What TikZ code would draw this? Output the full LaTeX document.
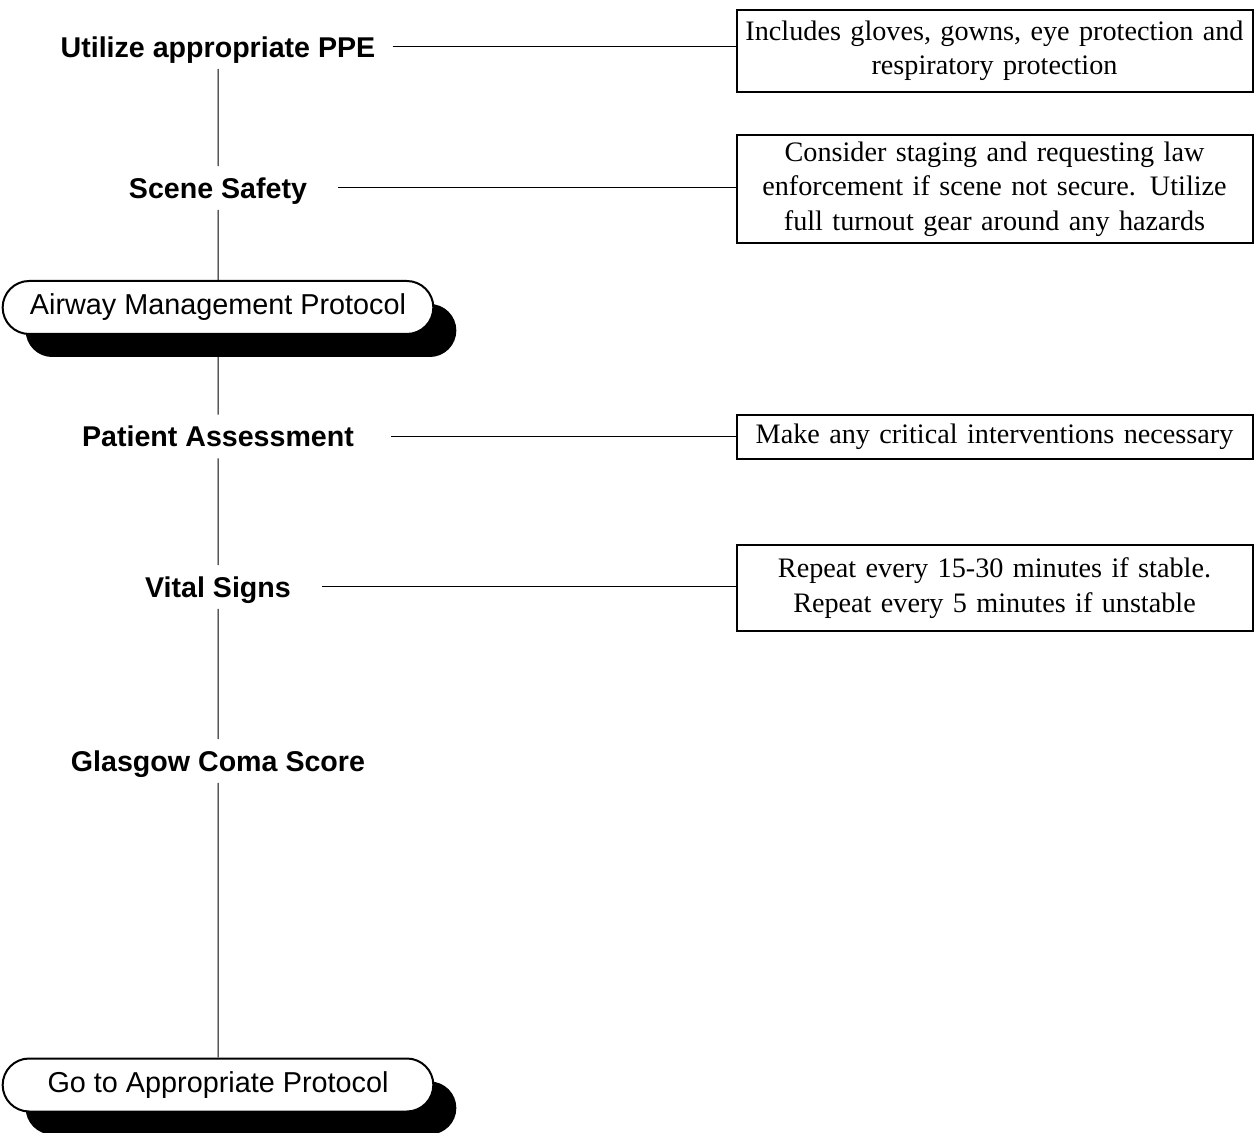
\documentclass[tikz,border=0pt]{standalone}
\usepackage{fontspec}
\setmainfont{Liberation Serif}
\setsansfont{Liberation Sans}
\usetikzlibrary{shapes.misc,shadows}

\begin{document}
\begin{tikzpicture}[x=0.5pt, y=-0.5pt,
  steplabel/.style={font=\sffamily\bfseries\fontsize{14.3}{17}\selectfont,
    inner xsep=0pt, inner ysep=5.5pt, text height=10.5pt, text depth=0pt},
  notebox/.style={draw, line width=1pt, text width=254pt, inner xsep=2pt,
    align=center, font=\rmfamily\fontsize{14.1}{17.25}\selectfont},
  protocolbox/.style={draw, line width=1pt, fill=white, rounded rectangle,
    minimum width=222pt, minimum height=26.5pt,
    font=\sffamily\fontsize{14.4}{17}\selectfont,
    drop shadow={shadow xshift=11.5pt, shadow yshift=-11.5pt, fill=black, opacity=1}},
  link/.style={line width=0.5pt}]

% Common positions
\def\mainx{218}
\def\notex{994.5}

\useasboundingbox (0,0) rectangle (1254,1133);

% Steps along the main line
\node[steplabel] (ppe) at (\mainx,47) {Utilize appropriate PPE};
\node[steplabel] (scene) at (\mainx,188) {Scene Safety};
\node[protocolbox] (airway) at (\mainx,307.5) {Airway Management Protocol};
\node[steplabel] (assess) at (\mainx,436.5) {Patient Assessment};
\node[steplabel] (vitals) at (\mainx,587) {Vital Signs};
\node[steplabel] (gcs) at (\mainx,761) {Glasgow Coma Score};
\node[protocolbox] (goto) at (\mainx,1085) {Go to Appropriate Protocol};

% Notes on the right
\node[notebox, minimum height=41pt] (ppenote) at (\notex,51)
  {Includes gloves, gowns, eye protection and\\ respiratory protection};
\node[notebox, minimum height=54pt] (scenenote) at (\notex,189)
  {Consider staging and requesting law\\ enforcement if scene not secure. Utilize\\ full turnout gear around any hazards};
\node[notebox, minimum height=22pt] (assessnote) at (\notex,437)
  {Make any critical interventions necessary};
\node[notebox, minimum height=43pt] (vitalsnote) at (\notex,588)
  {Repeat every 15-30 minutes if stable.\\ Repeat every 5 minutes if unstable};

% Main line
\draw[link] (ppe) -- (scene) -- (airway) -- (assess) -- (vitals) -- (gcs) -- (goto);

% Links to the notes
\draw[link, shorten <=8.5pt] (ppe.east) -- (ppe.east -| ppenote.west);
\draw[link, shorten <=15.5pt] (scene.east) -- (scene.east -| scenenote.west);
\draw[link, shorten <=18.5pt] (assess.east) -- (assess.east -| assessnote.west);
\draw[link, shorten <=15.5pt] (vitals.east) -- (vitals.east -| vitalsnote.west);

\end{tikzpicture}
\end{document}
